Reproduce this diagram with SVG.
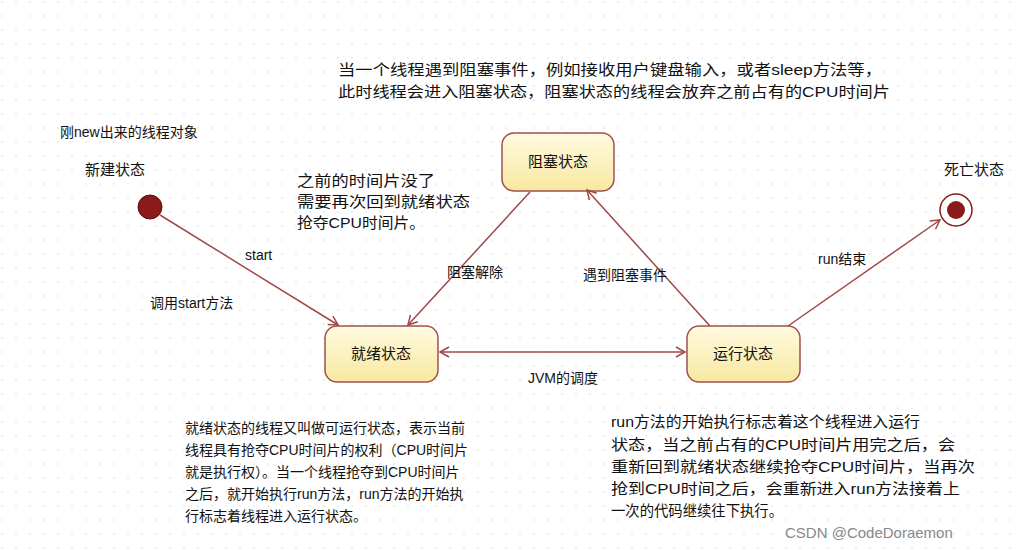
<svg xmlns="http://www.w3.org/2000/svg" width="1016" height="550" viewBox="0 0 1016 550">
<defs>
<pattern id="dots" width="14" height="14" patternUnits="userSpaceOnUse"><circle cx="2" cy="2" r="0.8" fill="#d8d8d8"/></pattern>
<linearGradient id="g" x1="0" y1="0" x2="0" y2="1"><stop offset="0" stop-color="#fffbe0"/><stop offset="1" stop-color="#f8e8a0"/></linearGradient>
<marker id="a" markerWidth="12" markerHeight="12" refX="10" refY="6" orient="auto" markerUnits="userSpaceOnUse"><path d="M1,1 L10,6 L1,11" fill="none" stroke="#a04848" stroke-width="1.5"/></marker>
</defs>
<style>
text{font-family:"Liberation Sans","Noto Sans CJK SC",sans-serif;font-size:14px;fill:#111}
.big{font-size:15px}
.st rect{fill:url(#g);stroke:#a05050;stroke-width:1.5}
.st text{font-size:15px}
#conn path{fill:none;stroke:#a04848;stroke-width:1.5;marker-end:url(#a)}
</style>
<rect width="1016" height="550" fill="#fff"/>
<rect width="1016" height="550" fill="url(#dots)"/>
<text class="big" x="338" y="75" textLength="544" lengthAdjust="spacingAndGlyphs">当一个线程遇到阻塞事件，例如接收用户键盘输入，或者sleep方法等，</text>
<text class="big" x="338" y="97" textLength="552" lengthAdjust="spacingAndGlyphs">此时线程会进入阻塞状态，阻塞状态的线程会放弃之前占有的CPU时间片</text>
<text x="60" y="137">刚new出来的线程对象</text>
<text class="big" x="297" y="186" textLength="138" lengthAdjust="spacingAndGlyphs">之前的时间片没了</text>
<text class="big" x="297" y="207" textLength="173" lengthAdjust="spacingAndGlyphs">需要再次回到就绪状态</text>
<text class="big" x="297" y="228" textLength="128" lengthAdjust="spacingAndGlyphs">抢夺CPU时间片。</text>
<g id="init"><circle cx="150" cy="207" r="12" fill="#8b1a1a" stroke="#5a0f0f"/><text x="85" y="175" style="font-size:15px">新建状态</text></g>
<g id="blocked" class="st"><rect x="502" y="133" width="112" height="58" rx="12"/><text x="558" y="167" text-anchor="middle">阻塞状态</text></g>
<g id="ready" class="st"><rect x="325" y="326" width="113" height="56" rx="12"/><text x="381" y="359" text-anchor="middle">就绪状态</text></g>
<g id="running" class="st"><rect x="687" y="326" width="113" height="56" rx="12"/><text x="743" y="359" text-anchor="middle">运行状态</text></g>
<g id="final"><circle cx="956" cy="210" r="16" fill="#fff" stroke="#8b1a1a" stroke-width="1.5"/><circle cx="956" cy="210" r="9" fill="#8b1a1a"/><text x="944" y="175" style="font-size:15px">死亡状态</text></g>
<g id="conn">
<path d="M160,215 L338,325"/>
<path d="M530,192 L408,325"/>
<path d="M710,326 L587,190"/>
<path d="M788,326 L940,220"/>
<path d="M560,352 L440,352"/>
<path d="M560,352 L685,352"/>
</g>
<text x="245" y="260">start</text>
<text x="150" y="308">调用start方法</text>
<text x="447" y="277">阻塞解除</text>
<text x="583" y="280">遇到阻塞事件</text>
<text x="818" y="264">run结束</text>
<text x="528" y="383">JVM的调度</text>
<text x="185" y="433">就绪状态的线程又叫做可运行状态，表示当前</text>
<text x="185" y="455">线程具有抢夺CPU时间片的权利（CPU时间片</text>
<text x="185" y="477">就是执行权）。当一个线程抢夺到CPU时间片</text>
<text x="185" y="499">之后，就开始执行run方法，run方法的开始执</text>
<text x="185" y="521">行标志着线程进入运行状态。</text>
<text class="big" x="611" y="427" textLength="309" lengthAdjust="spacingAndGlyphs">run方法的开始执行标志着这个线程进入运行</text>
<text class="big" x="611" y="450" textLength="344" lengthAdjust="spacingAndGlyphs">状态，当之前占有的CPU时间片用完之后，会</text>
<text class="big" x="611" y="472" textLength="364" lengthAdjust="spacingAndGlyphs">重新回到就绪状态继续抢夺CPU时间片，当再次</text>
<text class="big" x="611" y="494" textLength="349" lengthAdjust="spacingAndGlyphs">抢到CPU时间之后，会重新进入run方法接着上</text>
<text class="big" x="611" y="516" textLength="172" lengthAdjust="spacingAndGlyphs">一次的代码继续往下执行。</text>
<text x="785" y="538" style="fill:#888;font-size:15px">CSDN @CodeDoraemon</text>
</svg>
